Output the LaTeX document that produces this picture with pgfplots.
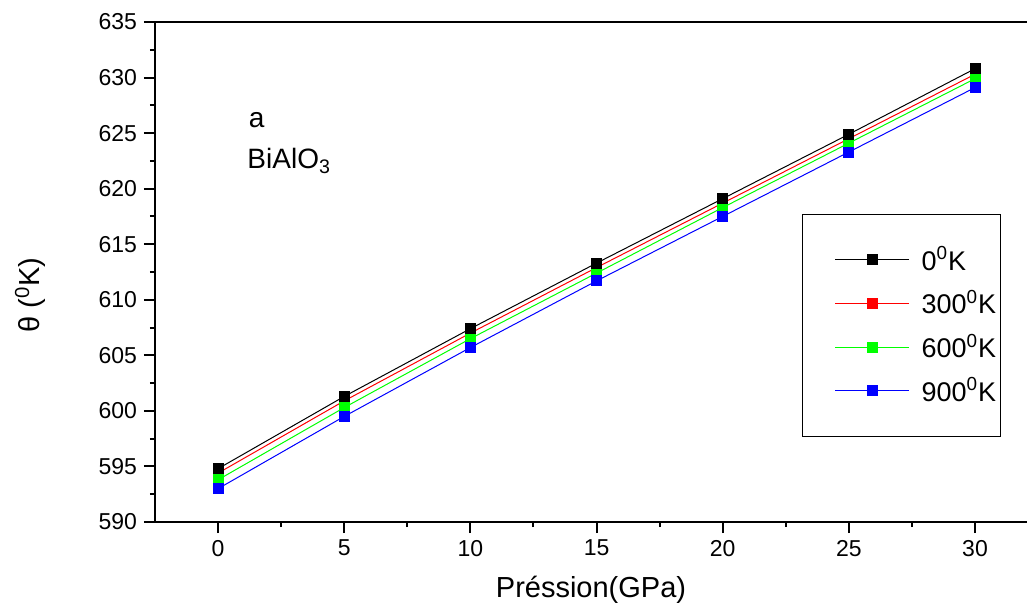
\documentclass[border=0pt]{standalone}
\usepackage{fontspec}
\setmainfont{Liberation Sans}
\usepackage{pgfplots}
\pgfplotsset{compat=1.18}
\begin{document}
\begin{tikzpicture}
\useasboundingbox (-77.5pt,-42pt) rectangle (436pt,261pt);
\begin{axis}[
  at={(0,0)}, anchor=south west,
  scale only axis, width=436pt, height=250pt,
  xmin=-2.5, xmax=32.06, ymin=590, ymax=635,
  axis x line=box, axis y line=left,
  axis line style={-, line width=1pt},
  xtick={0,5,...,30}, ytick={590,595,...,635},
  minor x tick num=1, minor y tick num=1,
  tick align=outside, xtick pos=left, ytick pos=left,
  major tick length=5.5pt, minor tick length=2.5pt,
  tick style={line width=1pt, black},
  tick label style={font=\fontsize{11.5}{13}\selectfont},
  /pgf/number format/assume math mode=true,
  xlabel={Préssion(GPa)},
  ylabel={θ (\textsuperscript{0}K)},
  every axis x label/.style={at={(axis description cs:0.5,-0.136)}, anchor=center, font=\fontsize{14.5}{16}\selectfont},
  every axis y label/.style={at={(axis description cs:-0.143,0.454)}, anchor=center, rotate=90, font=\fontsize{14.5}{16}\selectfont},
  legend style={draw, line width=0.6pt, at={(rel axis cs:0.742,0.616)}, anchor=north west,
    font=\fontsize{13.5}{15}\selectfont, inner xsep=0pt, inner ysep=14pt, row sep=4.5pt,
    legend cell align=left},
  legend image code/.code={%
    \path (0pt,0pt) (57pt,0pt);
    \draw[mark repeat=2,mark phase=2,#1] plot coordinates {(16pt,0pt) (34.5pt,0pt) (53pt,0pt)};},
]
\addplot[black, line width=0.5pt, mark=square*, mark size=2.5pt, forget plot] coordinates {
(0,594.8) (5,601.3) (10,607.4) (15,613.3) (20,619.1) (25,624.9) (30,630.8)};
\addplot[red, line width=0.5pt, mark=square*, mark size=2.5pt, forget plot] coordinates {
(0,594.4) (5,600.9) (10,607.0) (15,612.9) (20,618.7) (25,624.5) (30,630.3)};
\addplot[green, line width=0.5pt, mark=square*, mark size=2.5pt, forget plot] coordinates {
(0,593.8) (5,600.3) (10,606.5) (15,612.4) (20,618.3) (25,624.1) (30,629.9)};
\addplot[blue, line width=0.5pt, mark=square*, mark size=2.5pt, forget plot] coordinates {
(0,593.0) (5,599.5) (10,605.7) (15,611.7) (20,617.5) (25,623.3) (30,629.1)};
\addplot[black, only marks, mark=square*, mark size=2.5pt, forget plot] coordinates {
(0,594.8) (5,601.3) (10,607.4) (15,613.3) (20,619.1) (25,624.9) (30,630.8)};
\addlegendimage{draw=black, fill=black, line width=0.5pt, mark=square*, mark size=2.5pt, mark options={draw=black, fill=black}}
\addlegendentry{0\textsuperscript{0}K}
\addlegendimage{draw=red, fill=red, line width=0.5pt, mark=square*, mark size=2.5pt, mark options={draw=red, fill=red}}
\addlegendentry{300\textsuperscript{0}K}
\addlegendimage{draw=green, fill=green, line width=0.5pt, mark=square*, mark size=2.5pt, mark options={draw=green, fill=green}}
\addlegendentry{600\textsuperscript{0}K}
\addlegendimage{draw=blue, fill=blue, line width=0.5pt, mark=square*, mark size=2.5pt, mark options={draw=blue, fill=blue}}
\addlegendentry{900\textsuperscript{0}K}
\node[anchor=west, font=\fontsize{14}{16}\selectfont, inner sep=0pt] at (axis cs:1.2,626.2) {a};
\node[anchor=west, font=\fontsize{14}{16}\selectfont, inner sep=0pt] at (axis cs:1.15,622.5) {BiAlO\textsubscript{3}};
\end{axis}
\end{tikzpicture}
\end{document}
